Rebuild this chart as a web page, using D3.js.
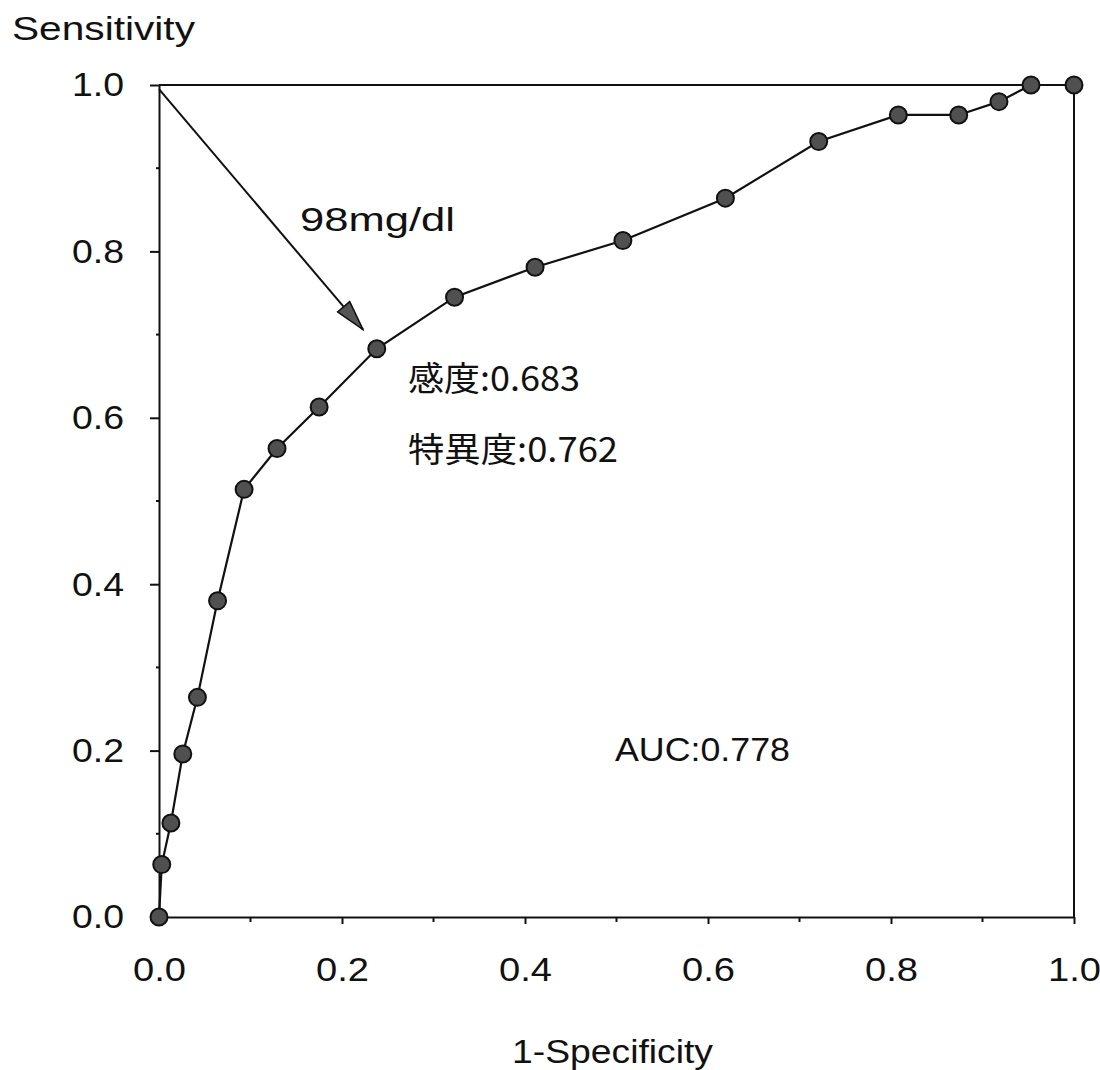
<!DOCTYPE html>
<html>
<head>
<meta charset="utf-8">
<script src="https://cdn.jsdelivr.net/npm/d3@7"></script>
<style>
  html, body { margin: 0; padding: 0; background: #fff; }
  svg { display: block; }
  text { font-family: "Liberation Sans", Arial, "Noto Sans CJK JP", sans-serif; fill: #111; }
  .jp { font-family: "Noto Sans CJK JP", "Liberation Sans", sans-serif; }
</style>
</head>
<body>
<svg id="chart" width="1100" height="1070"></svg>
<script>
// ROC curve points: 1 - specificity (x) and sensitivity (y)
const fpr = [0.000, 0.003, 0.013, 0.026, 0.042, 0.064, 0.093, 0.129, 0.175, 0.238,
             0.323, 0.411, 0.507, 0.619, 0.721, 0.808, 0.874, 0.918, 0.953, 1.000];
const tpr = [0.000, 0.063, 0.113, 0.196, 0.264, 0.380, 0.514, 0.563, 0.613, 0.683,
             0.745, 0.781, 0.813, 0.864, 0.932, 0.964, 0.964, 0.980, 1.000, 1.000];

const majorTicks = [0, 0.2, 0.4, 0.6, 0.8, 1.0];
const minorTicks = [0.1, 0.3, 0.5, 0.7, 0.9];

// Cut-off annotation
const cutoffLabel = "98mg/dl";
const sensitivityLabel = "感度:0.683";
const specificityLabel = "特異度:0.762";
const aucLabel = "AUC:0.778";
const arrowFrom = [0.0, 0.995];
const arrowTo = [0.223, 0.706];

const svg = d3.select("#chart");
const plotLeft = 159, plotRight = 1074, plotTop = 85, plotBottom = 917;

const x = d3.scaleLinear().domain([0, 1]).range([plotLeft, plotRight]);
const y = d3.scaleLinear().domain([0, 1]).range([plotBottom, plotTop]);

// Frame: top and right border
svg.append("line").attr("x1", plotLeft).attr("x2", plotRight).attr("y1", plotTop).attr("y2", plotTop)
  .attr("stroke", "#111").attr("stroke-width", 2);
svg.append("line").attr("x1", plotRight).attr("x2", plotRight).attr("y1", plotTop).attr("y2", plotBottom)
  .attr("stroke", "#111").attr("stroke-width", 2);

// Bottom axis
const xAxis = svg.append("g").attr("transform", `translate(0,${plotBottom})`)
  .call(d3.axisBottom(x).tickValues(majorTicks).tickFormat(d3.format(".1f")).tickSizeInner(7).tickSizeOuter(0).tickPadding(57));
xAxis.select(".domain").attr("stroke", "#111").attr("stroke-width", 2);
xAxis.selectAll(".tick line").attr("stroke", "#111").attr("stroke-width", 2);
xAxis.selectAll(".tick text")
  .attr("font-size", 34).attr("font-family", "Liberation Sans, Arial, sans-serif").attr("fill", "#111")
  .attr("dy", "0")
  .attr("textLength", 53).attr("lengthAdjust", "spacingAndGlyphs");
svg.append("g").attr("transform", `translate(0,${plotBottom})`)
  .selectAll("line").data(minorTicks).join("line")
  .attr("x1", d => x(d)).attr("x2", d => x(d)).attr("y1", 0).attr("y2", 5)
  .attr("stroke", "#111").attr("stroke-width", 2);

// Left axis
const yAxis = svg.append("g").attr("transform", `translate(${plotLeft},0)`)
  .call(d3.axisLeft(y).tickValues(majorTicks).tickFormat(d3.format(".1f")).tickSizeInner(9).tickSizeOuter(0).tickPadding(26));
yAxis.select(".domain").attr("stroke", "#111").attr("stroke-width", 2);
yAxis.selectAll(".tick line").attr("stroke", "#111").attr("stroke-width", 2);
yAxis.selectAll(".tick text")
  .attr("font-size", 34).attr("font-family", "Liberation Sans, Arial, sans-serif").attr("fill", "#111")
  .attr("textLength", 52).attr("lengthAdjust", "spacingAndGlyphs");
svg.append("g").attr("transform", `translate(${plotLeft},0)`)
  .selectAll("line").data(minorTicks).join("line")
  .attr("x1", -3).attr("x2", 0).attr("y1", d => y(d)).attr("y2", d => y(d))
  .attr("stroke", "#111").attr("stroke-width", 2);

// Axis titles
svg.append("text").attr("x", 12).attr("y", 40).attr("font-size", 34)
  .attr("textLength", 183).attr("lengthAdjust", "spacingAndGlyphs").text("Sensitivity");
svg.append("text").attr("x", 512).attr("y", 1063).attr("font-size", 33)
  .attr("textLength", 201).attr("lengthAdjust", "spacingAndGlyphs").text("1-Specificity");

// Arrow pointing at the chosen cut-off
const defs = svg.append("defs");
defs.append("marker").attr("id", "arrowhead")
  .attr("viewBox", "0 0 32 18").attr("refX", 31).attr("refY", 9)
  .attr("markerWidth", 32).attr("markerHeight", 18).attr("markerUnits", "userSpaceOnUse")
  .attr("orient", "auto")
  .append("path").attr("d", "M1,1 L31,9 L1,17 Z")
  .attr("fill", "#555").attr("stroke", "#111").attr("stroke-width", 1.5);
svg.append("line")
  .attr("x1", x(arrowFrom[0])).attr("y1", y(arrowFrom[1]))
  .attr("x2", x(arrowTo[0])).attr("y2", y(arrowTo[1]))
  .attr("stroke", "#111").attr("stroke-width", 2).attr("marker-end", "url(#arrowhead)");

// ROC curve
const pts = fpr.map((v, i) => [v, tpr[i]]);
svg.append("path").datum(pts)
  .attr("d", d3.line().x(d => x(d[0])).y(d => y(d[1])))
  .attr("fill", "none").attr("stroke", "#111").attr("stroke-width", 2.2);
svg.append("g").selectAll("circle").data(pts).join("circle")
  .attr("cx", d => x(d[0])).attr("cy", d => y(d[1])).attr("r", 8.5)
  .attr("fill", "#505050").attr("stroke", "#111").attr("stroke-width", 2);

// Annotations
svg.append("text").attr("x", 300).attr("y", 231).attr("font-size", 34)
  .attr("textLength", 155).attr("lengthAdjust", "spacingAndGlyphs").text(cutoffLabel);
svg.append("text").attr("class", "jp").attr("x", 408).attr("y", 391).attr("font-size", 34)
  .attr("textLength", 172).attr("lengthAdjust", "spacingAndGlyphs").text(sensitivityLabel);
svg.append("text").attr("class", "jp").attr("x", 408).attr("y", 462).attr("font-size", 34)
  .attr("textLength", 210).attr("lengthAdjust", "spacingAndGlyphs").text(specificityLabel);
svg.append("text").attr("x", 615).attr("y", 761).attr("font-size", 34)
  .attr("textLength", 175).attr("lengthAdjust", "spacingAndGlyphs").text(aucLabel);
</script>
</body>
</html>
